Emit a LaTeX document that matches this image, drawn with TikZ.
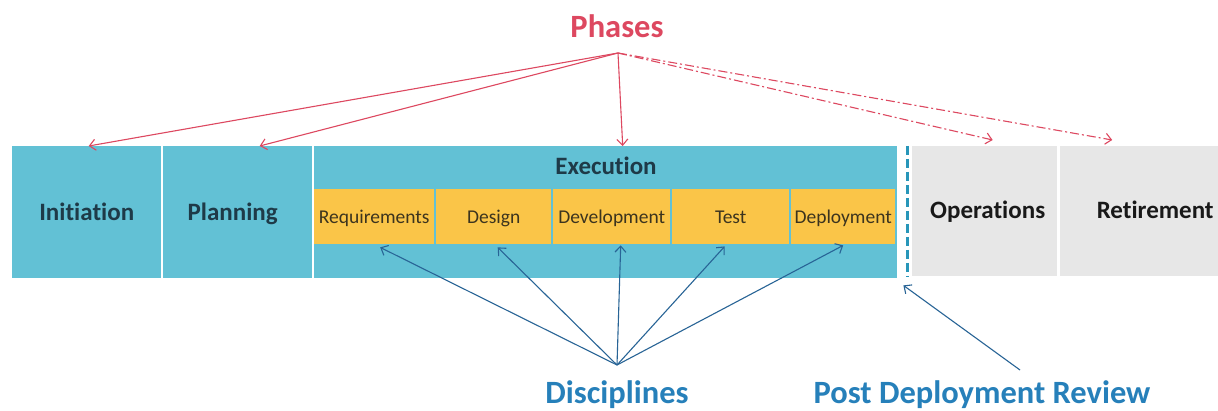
\documentclass[tikz,border=0pt]{standalone}
\usepackage{fontspec}
\setmainfont{Carlito}[Ligatures=NoCommon]
\usetikzlibrary{arrows.meta}
\definecolor{phaseblue}{RGB}{98,193,213}
\definecolor{discyellow}{RGB}{250,197,72}
\definecolor{opsgrey}{RGB}{231,231,231}
\definecolor{phasered}{RGB}{221,72,96}
\definecolor{discblue}{RGB}{38,128,186}
\definecolor{arrowblue}{RGB}{40,100,150}
\definecolor{boxtext}{RGB}{30,58,72}
\definecolor{celltext}{RGB}{60,52,30}
\definecolor{markerblue}{RGB}{40,150,185}
\tikzset{
  box/.style={rectangle, inner sep=0pt, anchor=north west},
  bluebox/.style={box, fill=phaseblue, text=boxtext, text height=17pt, text depth=1pt, font=\fontsize{25}{27}\selectfont\bfseries},
  cellbox/.style={box, fill=discyellow, text=celltext, text height=14pt, text depth=0pt, minimum height=55pt, font=\fontsize{19.5}{21}\selectfont},
  greybox/.style={box, fill=opsgrey, text=black!90, text height=17pt, text depth=3pt, minimum height=130pt, font=\fontsize{25}{27}\selectfont\bfseries},
  redarrow/.style={draw=phasered, line width=1.1pt, -{Straight Barb[length=6pt,width=11pt]}},
  reddash/.style={redarrow, dash pattern=on 9pt off 3pt on 2pt off 3pt},
  bluearrow/.style={draw=arrowblue, line width=1.1pt, -{Straight Barb[length=6pt,width=11pt]}},
  biglabel/.style={font=\fontsize{32.5}{35}\selectfont\bfseries}
}
\begin{document}
\begin{tikzpicture}[x=1pt,y=-1pt]
\useasboundingbox (0,0) rectangle (1218,411);
\fill[white] (0,0) rectangle (1218,411);

% phase blocks
\node[bluebox, minimum width=149pt, minimum height=132pt] (init) at (12,146) {Initiation};
\node[bluebox, minimum width=149pt, minimum height=132pt] (plan) at (163,146) {\hspace*{-10pt}Planning};
\node[box, fill=phaseblue, minimum width=583pt, minimum height=132pt] (exec) at (314,146) {};
\node[font=\fontsize{25}{27}\selectfont\bfseries, text=boxtext] (exectitle) at (606,166) {Execution};

% discipline cells
\node[cellbox, minimum width=120pt] (req) at (314,189) {Requirements};
\node[cellbox, minimum width=115pt] (des) at (436,189) {Design};
\node[cellbox, minimum width=117pt] (dev) at (553,189) {Development};
\node[cellbox, minimum width=117pt] (tst) at (672,189) {Test};
\node[cellbox, minimum width=104pt] (dep) at (791,189) {Deployment};

% post deployment review marker
\coordinate (pdrtop) at (907,146);
\coordinate (pdrbot) at (907,277);
\draw[markerblue, line width=3pt, dash pattern=on 9pt off 4pt] (pdrtop) -- (pdrbot);

% later phases
\node[greybox, minimum width=145pt] (ops) at (912,146) {\hspace*{6pt}Operations};
\node[greybox, minimum width=158pt] (ret) at (1060,146) {\hspace*{32pt}Retirement};

% phases label and arrows
\node[biglabel, text=phasered] (phases) at (617,26) {Phases};
\coordinate (ph) at (618,53);
\draw[redarrow] (ph) -- ([xshift=2pt]init.north);
\draw[redarrow] (ph) -- ([xshift=22pt]plan.north);
\draw[redarrow] (ph) -- ([xshift=17pt]exec.north);
\draw[reddash] (ph) -- ([xshift=8pt,yshift=6pt]ops.north);
\draw[reddash] (ph) -- ([xshift=-27pt,yshift=6pt]ret.north);

% disciplines label and arrows
\node[biglabel, text=discblue] (disc) at (617,395) {Disciplines};
\coordinate (ds) at (617,365);
\draw[bluearrow] (ds) -- ([xshift=6pt,yshift=-3pt]req.south);
\draw[bluearrow] (ds) -- ([xshift=4pt,yshift=-3pt]des.south);
\draw[bluearrow] (ds) -- ([xshift=9pt,yshift=-1pt]dev.south);
\draw[bluearrow] (ds) -- ([xshift=-6pt,yshift=-2pt]tst.south);
\draw[bluearrow] (ds) -- ([yshift=-1pt]dep.south);

% post deployment review label and arrow
\node[biglabel, text=discblue] (pdr) at (982,395) {Post Deployment Review};
\coordinate (pr) at (1020,370);
\draw[bluearrow] (pr) -- ([xshift=6pt,yshift=-7pt]exec.south east);
\end{tikzpicture}
\end{document}
